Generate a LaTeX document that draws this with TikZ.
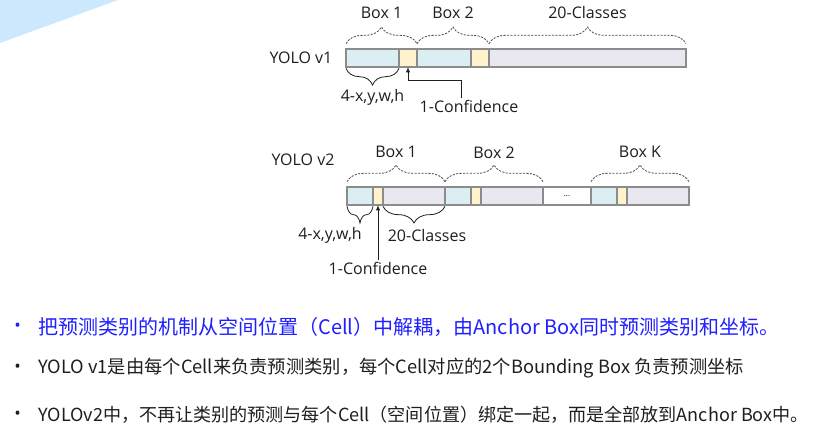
\documentclass[tikz,border=0pt]{standalone}
\usepackage{fontspec}
\setmainfont{Open Sans}
\newfontfamily\cjk{Noto Sans CJK SC}
\usetikzlibrary{positioning,decorations.pathreplacing,arrows.meta}
\definecolor{cellloc}{HTML}{DAEEF3}
\definecolor{cellconf}{HTML}{FFF2CC}
\definecolor{cellcls}{HTML}{E9E7EF}
\definecolor{barline}{HTML}{8C8C8C}
\definecolor{cornerblue}{HTML}{CDE8FD}
\definecolor{hiblue}{HTML}{1F1FFF}
\definecolor{dtext}{HTML}{1E1E1E}

\tikzset{
  cell/.style={draw=barline, line width=0.9pt, inner sep=0pt, outer sep=0pt, minimum height=13.5pt},
  lbl/.style={font=\fontsize{12}{13}\selectfont, text=dtext, inner sep=1pt},
  topbrace/.style={decorate, decoration={brace, amplitude=12.5pt, raise=4pt}, draw=dtext!80, line width=0.6pt, dash pattern=on 1.6pt off 1pt},
  botbrace/.style={decorate, decoration={brace, mirror, amplitude=12.5pt, raise=1pt}, draw=dtext, line width=0.6pt},
  arr/.style={-{Latex[length=4pt,width=3.2pt]}, draw=dtext, line width=0.7pt},
  point/.style={anchor=west, inner sep=0pt, font=\cjk\fontsize{15}{16}\selectfont},
  dot/.style={anchor=west, inner sep=0pt, font=\fontsize{13}{13}\selectfont}
}

\begin{document}
\begin{tikzpicture}[x=0.75pt,y=-0.75pt]
  \useasboundingbox (0,0) rectangle (814,445);

  % corner decoration
  \fill[cornerblue] (0,0) -- (118,0) -- (0,43) -- cycle;

  % YOLO v1 vector
  \node[cell, fill=cellloc, minimum width=39.75pt, anchor=north west] (v1loc1) at (346,49) {};
  \node[cell, fill=cellconf, minimum width=13.5pt, right=0pt of v1loc1] (v1conf1) {};
  \node[cell, fill=cellloc, minimum width=40.5pt, right=0pt of v1conf1] (v1loc2) {};
  \node[cell, fill=cellconf, minimum width=13.5pt, right=0pt of v1loc2] (v1conf2) {};
  \node[cell, fill=cellcls, minimum width=147.75pt, right=0pt of v1conf2] (v1cls) {};
  \node[lbl, left=9pt of v1loc1] (v1name) {YOLO v1};

  \draw[topbrace] (v1loc1.north west) -- node[lbl, yshift=27pt] (v1box1) {Box 1} (v1conf1.north east);
  \draw[topbrace] (v1loc2.north west) -- node[lbl, yshift=27pt] (v1box2) {Box 2} (v1conf2.north east);
  \draw[topbrace] (v1cls.north west) -- node[lbl, yshift=27pt] (v1classes) {20-Classes} (v1cls.north east);
  \draw[botbrace] (v1loc1.south west) -- node[lbl, yshift=-22.5pt] (v1xywh) {4-x,y,w,h} (v1loc1.south east);

  \node[lbl] (cf1) at (469,106) {1-Confidence};
  \draw[arr] ([xshift=-6pt]cf1.north) |- ([yshift=-9.75pt]v1conf1.south) -- (v1conf1.south);

  % YOLO v2 vector
  \node[cell, fill=cellloc, minimum width=19.5pt, anchor=north west] (b1loc) at (347,187) {};
  \node[cell, fill=cellconf, minimum width=7.5pt, right=0pt of b1loc] (b1conf) {};
  \node[cell, fill=cellcls, minimum width=46.5pt, right=0pt of b1conf] (b1cls) {};
  \node[cell, fill=cellloc, minimum width=19.5pt, right=0pt of b1cls] (b2loc) {};
  \node[cell, fill=cellconf, minimum width=7.5pt, right=0pt of b2loc] (b2conf) {};
  \node[cell, fill=cellcls, minimum width=46.5pt, right=0pt of b2conf] (b2cls) {};
  \node[cell, fill=white, minimum width=36pt, right=0pt of b2cls, font=\fontsize{6}{6}\selectfont] (gap) {...};
  \node[cell, fill=cellloc, minimum width=19.5pt, right=0pt of gap] (bkloc) {};
  \node[cell, fill=cellconf, minimum width=7.5pt, right=0pt of bkloc] (bkconf) {};
  \node[cell, fill=cellcls, minimum width=46.5pt, right=0pt of bkconf] (bkcls) {};
  \node[lbl] (v2name) at (303,160) {YOLO v2};

  \draw[topbrace] (b1loc.north west) -- node[lbl, yshift=26pt] (v2box1) {Box 1} (b1cls.north east);
  \draw[topbrace] (b2loc.north west) -- node[lbl, yshift=26pt] (v2box2) {Box 2} (b2cls.north east);
  \draw[topbrace] (bkloc.north west) -- node[lbl, yshift=26pt] (v2boxk) {Box K} (bkcls.north east);
  \draw[botbrace] (b1loc.south west) -- node[lbl, yshift=-23pt, xshift=-22.5pt] (v2xywh) {4-x,y,w,h} (b1loc.south east);
  \draw[botbrace] (b1cls.south west) -- node[lbl, yshift=-23pt, xshift=9.75pt] (v2classes) {20-Classes} (b1cls.south east);

  \node[lbl] (cf2) at (378,268) {1-Confidence};
  \draw[arr] (cf2.north) -- (b1conf.south);

  % bullet points
  \node[dot, text=hiblue] (bl1) at (14,327) {•};
  \node[point, text=hiblue] (pt1) at (38,327) {把预测类别的机制从空间位置（Cell）中解耦，由Anchor Box同时预测类别和坐标。};
  \node[dot, text=dtext] (bl2) at (14,368) {•};
  \node[point, text=dtext, font=\cjk\fontsize{13.7}{16}\selectfont] (pt2) at (38,368) {YOLO v1是由每个Cell来负责预测类别，每个Cell对应的2个Bounding Box 负责预测坐标};
  \node[dot, text=dtext] (bl3) at (14,415) {•};
  \node[point, text=dtext, font=\cjk\fontsize{13.55}{16}\selectfont] (pt3) at (38,415) {YOLOv2中，不再让类别的预测与每个Cell（空间位置）绑定一起，而是全部放到Anchor Box中。};
\end{tikzpicture}
\end{document}
